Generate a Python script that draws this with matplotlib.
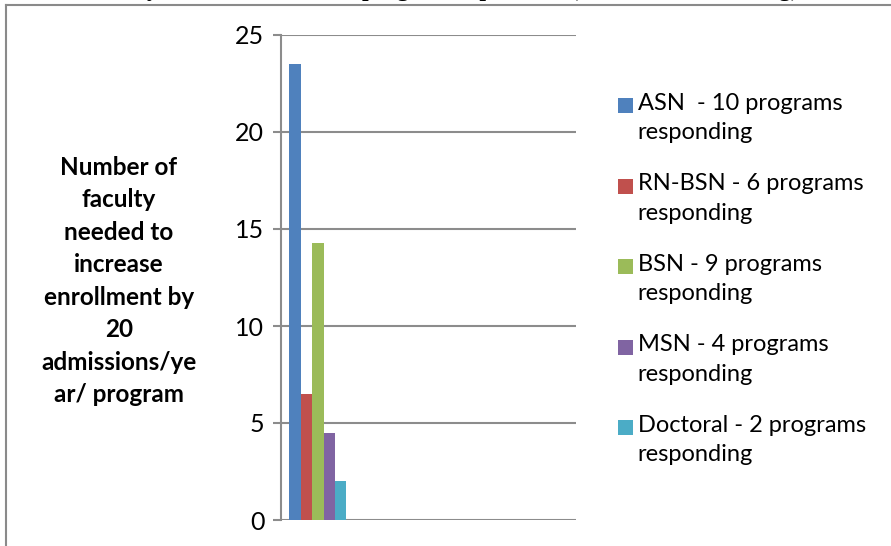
import matplotlib
matplotlib.use("Agg")
import matplotlib.pyplot as plt
import numpy as np
from matplotlib.lines import Line2D
from matplotlib.patches import Rectangle
from matplotlib.legend_handler import HandlerPatch

series = ["ASN  - 10 programs\nresponding",
          "RN-BSN - 6 programs\nresponding",
          "BSN - 9 programs\nresponding",
          "MSN - 4 programs\nresponding",
          "Doctoral - 2 programs\nresponding"]
values = [23.5, 6.5, 14.3, 4.5, 2.0]
colors = ["#4F81BD", "#C0504D", "#9BBB59", "#8064A2", "#4BACC6"]
n_categories = 4
yticks = [0, 5, 10, 15, 20, 25]
ylabel = "Number of\nfaculty\nneeded to\nincrease\nenrollment by\n20\nadmissions/ye\nar/ program"
title = "Increase of faculty members needs for program expansion, (all schools of nursing)"

W, H = 891, 546
fig = plt.figure(figsize=(W/100, H/100), dpi=100)
plt.rcParams['font.family'] = ['Lato', 'DejaVu Sans']

# outer frame
fig.add_artist(Line2D([6/W, 6/W], [-0.1, 1 - 5/H], transform=fig.transFigure, color="#8a8a8a", lw=1.5))
fig.add_artist(Line2D([6/W, 1.1], [1 - 5/H, 1 - 5/H], transform=fig.transFigure, color="#8a8a8a", lw=1.5))

# clipped title (only the lower part is visible, as in the reference)
fig.text(-0.03, 1 + 4/H, title, family="Liberation Serif", fontweight="bold", fontsize=17,
         ha="left", va="baseline")

ax = fig.add_axes([281/W, (H-520)/H, 295/W, (520-35)/H])
group = 0.773
bw = group / len(values)
handles = []
for i, (s, v, c) in enumerate(zip(series, values, colors)):
    x = 0 - group/2 + bw*(i + 0.5)
    bc = ax.bar([x], [v], width=bw, color=c, label=s, zorder=3)
    handles.append(bc.patches[0])

ax.set_xlim(-0.5, n_categories - 0.5)
ax.set_ylim(0, 25)
ax.set_yticks(yticks)
ax.set_xticks([])
ax.yaxis.grid(True, color="#8c8c8c", lw=1.5, zorder=0)
for sp in ["top", "right", "bottom"]:
    ax.spines[sp].set_visible(False)
ax.spines["left"].set_color("#8c8c8c")
ax.spines["left"].set_linewidth(1.5)
ax.tick_params(axis="y", length=6, width=1.5, color="#8c8c8c", labelsize=18, pad=6)
ax.set_axisbelow(True)

fig.text(119/W, 1 - 281/H, ylabel, ha="center", va="center", fontsize=17.5,
         fontweight="bold", linespacing=1.5)


def top_square(legend, orig_handle, xdescent, ydescent, width, height, fontsize):
    sq = 0.64 * fontsize
    return Rectangle((-xdescent, -ydescent + height - sq + 0.02 * fontsize), sq, sq)


leg = fig.legend(handles, series, loc="upper left", bbox_to_anchor=(613/W, 1 - 88/H), frameon=False,
                 fontsize=17, handlelength=0.64, handleheight=2.3, handletextpad=0.2,
                 labelspacing=1.27, borderaxespad=0, borderpad=0.2,
                 handler_map={Rectangle: HandlerPatch(patch_func=top_square)})
for t in leg.get_texts():
    t.set_linespacing(1.5)

fig.savefig("out.png", dpi=100)
